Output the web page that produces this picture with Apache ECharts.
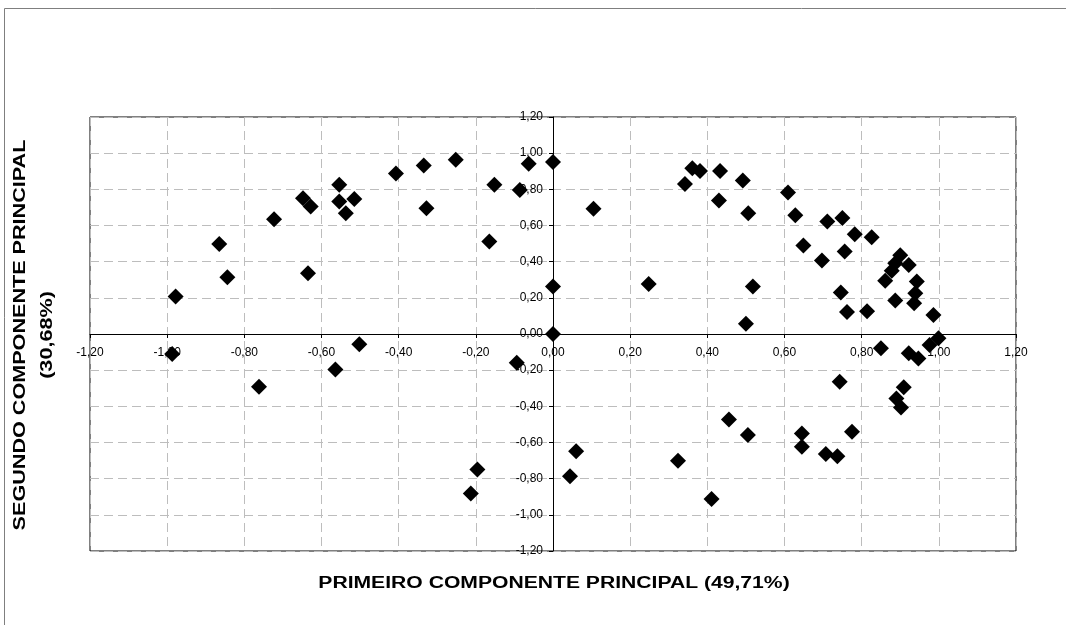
<!DOCTYPE html>
<html>
<head>
<meta charset="utf-8">
<script src="https://cdn.jsdelivr.net/npm/echarts@6/dist/echarts.min.js"></script>
<style>
html,body{margin:0;padding:0;background:#fff;}
#chart{width:1066px;height:625px;}
</style>
</head>
<body>
<div id="chart"></div>
<script>
// Data (PCA loadings)
var xValues = [
  -0.978, -0.865, -0.844, -0.723, -0.648, -0.628, -0.635, -0.554, -0.554, -0.515,
  -0.537, -0.407, -0.335, -0.328, -0.252, -0.152, -0.165, -0.063, -0.086, 0.000,
   0.000,  0.000, -0.502, -0.564, -0.094, -0.196, -0.213, -0.987, -0.762,  0.105,
   0.248,  0.342,  0.361,  0.381,  0.433,  0.430,  0.492,  0.506,  0.518,  0.500,
   0.609,  0.628,  0.649,  0.711,  0.750,  0.697,  0.782,  0.756,  0.826,  0.746,
   0.762,  0.814,  0.900,  0.922,  0.887,  0.878,  0.861,  0.943,  0.939,  0.936,
   0.887,  0.986,  0.999,  0.976,  0.922,  0.947,  0.850,  0.743,  0.909,  0.890,
   0.902,  0.645,  0.645,  0.775,  0.707,  0.737,  0.456,  0.505,  0.324,  0.411,
   0.060,  0.044
];
var yValues = [
   0.207,  0.498,  0.314,  0.635,  0.751,  0.705,  0.336,  0.825,  0.733,  0.746,
   0.668,  0.888,  0.932,  0.696,  0.963,  0.825,  0.511,  0.941,  0.797,  0.951,
   0.262,  0.000, -0.057, -0.196, -0.159, -0.749, -0.882, -0.111, -0.292,  0.692,
   0.277,  0.829,  0.917,  0.901,  0.901,  0.738,  0.849,  0.668,  0.262,  0.057,
   0.782,  0.657,  0.489,  0.622,  0.642,  0.406,  0.552,  0.456,  0.535,  0.229,
   0.122,  0.126,  0.436,  0.382,  0.391,  0.350,  0.295,  0.290,  0.225,  0.170,
   0.185,  0.105, -0.024, -0.061, -0.107, -0.135, -0.079, -0.264, -0.295, -0.356,
  -0.406, -0.550, -0.624, -0.541, -0.664, -0.676, -0.473, -0.559, -0.701, -0.912,
  -0.648, -0.786
];
var xTitle = 'PRIMEIRO COMPONENTE PRINCIPAL (49,71%)';
var yTitle = 'SEGUNDO COMPONENTE PRINCIPAL\n(30,68%)';
var axisMin = -1.2, axisMax = 1.2, axisStep = 0.2;

var points = xValues.map(function (x, i) { return [x, yValues[i]]; });
function fmt(v) { return v.toFixed(2).replace('.', ','); }

var W = 1066, H = 625;
var gLeft = 90, gRight = 50, gTop = 117, gBottom = 74;
var gW = W - gLeft - gRight, gH = H - gTop - gBottom;

var chart = echarts.init(document.getElementById('chart'), null, {renderer: 'canvas'});
var gridLine = {show: true, lineStyle: {color: '#bdbdbd', type: [9, 5], width: 1}};
var labelFont = '"Liberation Sans", Arial, sans-serif';
var option = {
  animation: false,
  backgroundColor: '#ffffff',
  graphic: [
    {type: 'rect', silent: true, shape: {x: 4.5, y: 8.5, width: 1200, height: 800},
     style: {fill: 'none', stroke: '#7f7f7f', lineWidth: 1}},
    {type: 'text', x: 554, y: 584, scaleX: 1.32, silent: true,
     style: {text: xTitle, font: 'bold 16px "Liberation Sans", Arial, sans-serif',
             fill: '#000', textAlign: 'center', textVerticalAlign: 'middle'}},
    {type: 'text', x: 34, y: 335, rotation: Math.PI / 2, scaleX: 1.35, silent: true,
     style: {text: yTitle, font: 'bold 16px "Liberation Sans", Arial, sans-serif',
             fill: '#000', textAlign: 'center', textVerticalAlign: 'middle', lineHeight: 27}}
  ],
  grid: {left: gLeft, right: gRight, top: gTop, bottom: gBottom, show: true,
         borderColor: '#000', borderWidth: 1, backgroundColor: '#fff'},
  xAxis: {
    type: 'value', min: axisMin, max: axisMax, interval: axisStep,
    position: 'bottom', offset: -gH / 2,
    axisLine: {show: true, onZero: false, lineStyle: {color: '#000', width: 1}},
    axisTick: {show: true, length: 4, inside: false, lineStyle: {color: '#000'}},
    axisLabel: {show: true, formatter: fmt, color: '#000', fontSize: 12, margin: 13,
                fontFamily: labelFont, showMinLabel: true, showMaxLabel: true},
    splitLine: gridLine
  },
  yAxis: {
    type: 'value', min: axisMin, max: axisMax, interval: axisStep,
    position: 'left', offset: -gW / 2,
    axisLine: {show: true, onZero: false, lineStyle: {color: '#000', width: 1}},
    axisTick: {show: true, length: 4, inside: false, lineStyle: {color: '#000'}},
    axisLabel: {show: true, formatter: fmt, color: '#000', fontSize: 12, margin: 10,
                fontFamily: labelFont, showMinLabel: true, showMaxLabel: true},
    splitLine: gridLine
  },
  series: [{
    type: 'scatter',
    data: points,
    symbol: 'diamond',
    symbolSize: 16,
    itemStyle: {color: '#000', opacity: 1}
  }]
};
chart.setOption(option);
</script>
</body>
</html>
